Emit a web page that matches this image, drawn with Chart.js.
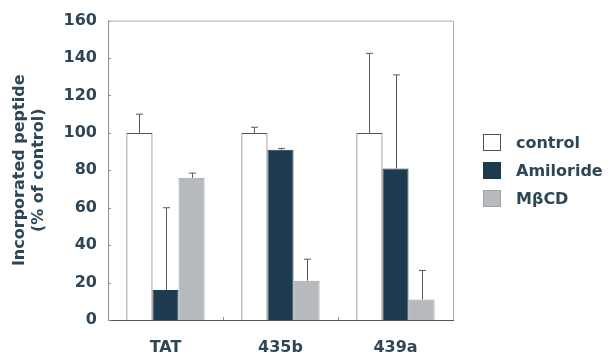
<!DOCTYPE html>
<html>
<head>
<meta charset="utf-8">
<script src="https://cdn.jsdelivr.net/npm/chart.js@4.4.1/dist/chart.umd.min.js"></script>
<style>
  body { margin: 0; background: #fff; }
  #wrap { position: relative; width: 612px; height: 359px; }
  #legend { position: absolute; left: 483px; top: 128px; font: bold 16px "DejaVu Sans", sans-serif; color: #2f4656; }
  .item { display: flex; align-items: center; height: 28px; }
  .box { width: 18px; height: 17px; margin-right: 15px; box-sizing: border-box; }
</style>
</head>
<body>
<div id="wrap">
  <canvas id="grafico"></canvas>
  <div id="legend"></div>
</div>
<script>
// datos
const categorias = ["TAT", "435b", "439a"];
const series = ["control", "Amiloride", "M\u03b2CD"];
const valControl = [100, 100, 100];
const valAmiloride = [16, 91, 81];
const valMbcd = [76, 21, 11];
const errControl = [10, 3, 42.5];
const errAmiloride = [44, 0.7, 50];
const errMbcd = [2.5, 11.5, 15.5];
const ticksY = [0, 20, 40, 60, 80, 100, 120, 140, 160];

const textoColor = "#2f4656";
const colores = ["#ffffff", "#1d3a4f", "#b6babd"];
const bordes = ["#505050", "#1d3a4f", "#9da2a5"];
const errores = [errControl, errAmiloride, errMbcd];

// barras de error (solo hacia arriba), marco y marcas interiores
const barrasError = {
  id: "barrasError",
  afterDatasetsDraw(chart) {
    const ctx = chart.ctx;
    const y = chart.scales.y;
    const x = chart.scales.x;
    const a = chart.chartArea;
    ctx.save();
    ctx.strokeStyle = "#5a5a5a";
    ctx.lineWidth = 1;
    chart.data.datasets.forEach((ds, i) => {
      const meta = chart.getDatasetMeta(i);
      meta.data.forEach((bar, j) => {
        const yTop = y.getPixelForValue(ds.data[j] + errores[i][j]);
        const xc = Math.round(bar.x) + 0.5;
        ctx.beginPath();
        ctx.moveTo(xc, bar.y);
        ctx.lineTo(xc, yTop);
        ctx.moveTo(xc - 3.5, yTop);
        ctx.lineTo(xc + 3.5, yTop);
        ctx.stroke();
      });
    });
    // marcas de los ejes hacia dentro
    ctx.strokeStyle = "#8a9094";
    ctx.beginPath();
    ticksY.forEach(v => {
      const py = Math.round(y.getPixelForValue(v)) + 0.5;
      ctx.moveTo(a.left, py);
      ctx.lineTo(a.left + 3, py);
    });
    for (let k = 1; k < categorias.length; k++) {
      const px = Math.round((x.getPixelForValue(k - 1) + x.getPixelForValue(k)) / 2) + 0.5;
      ctx.moveTo(px, a.bottom);
      ctx.lineTo(px, a.bottom - 3);
    }
    ctx.stroke();
    // marco superior y derecho
    ctx.strokeStyle = "#a9b0b4";
    ctx.beginPath();
    ctx.moveTo(a.left, a.top + 0.5);
    ctx.lineTo(a.right + 0.5, a.top + 0.5);
    ctx.lineTo(a.right + 0.5, a.bottom);
    ctx.stroke();
    ctx.restore();
  }
};

const fuente = { family: "'DejaVu Sans', sans-serif", size: 16, weight: "bold" };

new Chart(document.getElementById("grafico"), {
  type: "bar",
  data: {
    labels: categorias,
    datasets: [valControl, valAmiloride, valMbcd].map((d, i) => ({
      label: series[i],
      data: d,
      backgroundColor: colores[i],
      borderColor: bordes[i],
      borderWidth: 1,
      borderSkipped: "bottom",
      barPercentage: 1,
      categoryPercentage: 0.68
    }))
  },
  options: {
    responsive: true,
    maintainAspectRatio: false,
    animation: false,
    layout: { padding: { left: 10, right: 159, top: 19, bottom: 0 } },
    plugins: { legend: { display: false }, tooltip: { enabled: false } },
    scales: {
      x: {
        grid: { display: false, drawTicks: false },
        border: { color: "#555", width: 1 },
        ticks: { font: fuente, color: textoColor, padding: 18 },
        afterFit: s => { s.height = 39; }
      },
      y: {
        min: 0,
        max: 160,
        afterBuildTicks: s => { s.ticks = ticksY.map(v => ({ value: v })); },
        grid: { display: false, drawTicks: false },
        border: { color: "#8a9094", width: 1 },
        ticks: { font: fuente, color: textoColor, padding: 11 },
        title: {
          display: true,
          text: ["Incorporated peptide", "(% of control)"],
          font: fuente,
          color: textoColor,
          padding: { top: 0, bottom: 6 }
        },
        afterFit: s => { s.width = 98; }
      }
    }
  },
  plugins: [barrasError]
});

// leyenda
const leyenda = document.getElementById("legend");
series.forEach((nombre, i) => {
  const item = document.createElement("div");
  item.className = "item";
  item.innerHTML = `<div class="box" style="background:${colores[i]};border:1px solid ${bordes[i]}"></div><span>${nombre}</span>`;
  leyenda.appendChild(item);
});
</script>
</body>
</html>
